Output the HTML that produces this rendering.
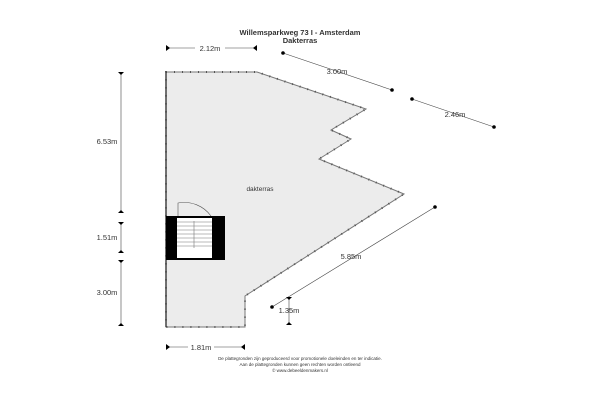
<!DOCTYPE html>
<html><head><style>body{margin:0;background:#fff}svg{display:block}text{font-family:"Liberation Sans",sans-serif;fill:#333}</style></head><body>
<svg width="600" height="400" viewBox="0 0 600 400">
<text x="300" y="35" font-size="7.5" font-weight="bold" text-anchor="middle">Willemsparkweg 73 I - Amsterdam</text>
<text x="300" y="43" font-size="7.5" font-weight="bold" text-anchor="middle">Dakterras</text>
<polygon points="166,72 257,72 366,109 331,130 351,139 319,159 404,194 245,296 245,327 166,327" fill="#ececec" stroke="#777" stroke-width="1"/>
<polygon points="166,72 257,72 366,109 331,130 351,139 319,159 404,194 245,296 245,327 166,327" fill="none" stroke="#555" stroke-width="2" stroke-dasharray="1,7"/>
<line x1="166" y1="72" x2="166" y2="327" stroke="#444" stroke-width="1.5"/>
<text x="260" y="191" font-size="6.5" text-anchor="middle">dakterras</text>
<path d="M178 216 V203 A33 33 0 0 1 211 216" fill="none" stroke="#555" stroke-width="0.6"/>
<rect x="166" y="216" width="59" height="44" fill="#000"/>
<rect x="177" y="218" width="35" height="40" fill="#fff"/>
<g stroke="#777" stroke-width="0.6">
<line x1="177" y1="222" x2="212" y2="222"/><line x1="177" y1="226" x2="212" y2="226"/><line x1="177" y1="230" x2="212" y2="230"/><line x1="177" y1="234" x2="212" y2="234"/><line x1="177" y1="238" x2="212" y2="238"/><line x1="177" y1="242" x2="212" y2="242"/><line x1="177" y1="246" x2="212" y2="246"/><line x1="194" y1="221" x2="194" y2="248"/></g>
<g stroke="#444" stroke-width="0.6">
<line x1="121" y1="72" x2="121" y2="213"/><line x1="121" y1="222" x2="121" y2="253"/><line x1="121" y1="260" x2="121" y2="326"/>
<line x1="166" y1="48" x2="257" y2="48"/><line x1="166" y1="347" x2="245" y2="347"/>
<line x1="283" y1="53" x2="392" y2="90"/><line x1="412" y1="99" x2="494" y2="127"/>
<line x1="435" y1="207" x2="272" y2="307"/><line x1="289" y1="297" x2="289" y2="325"/></g>
<g fill="#000">
<path d="M118 72h6l-3 3z"/><path d="M118 213h6l-3-3z"/><path d="M118 222h6l-3 3z"/><path d="M118 253h6l-3-3z"/><path d="M118 260h6l-3 3z"/><path d="M118 326h6l-3-3z"/>
<path d="M166 45v6l4-3z"/><path d="M257 45v6l-4-3z"/><path d="M166 344v6l4-3z"/><path d="M245 344v6l-4-3z"/>
<path d="M286 297h6l-3 3z"/><path d="M286 325h6l-3-3z"/>
<circle cx="283" cy="53" r="1.8"/><circle cx="392" cy="90" r="1.8"/><circle cx="412" cy="99" r="1.8"/><circle cx="494" cy="127" r="1.8"/><circle cx="435" cy="207" r="1.8"/><circle cx="272" cy="307" r="1.8"/></g>
<g font-size="7.5">
<rect x="195" y="43" width="30" height="9" fill="#fff"/><text x="210" y="51" text-anchor="middle">2.12m</text>
<rect x="188" y="342" width="26" height="9" fill="#fff"/><text x="201" y="350" text-anchor="middle">1.81m</text>
<text x="107" y="144" text-anchor="middle">6.53m</text>
<text x="107" y="240" text-anchor="middle">1.51m</text>
<text x="107" y="295" text-anchor="middle">3.00m</text>
<text x="337" y="74" text-anchor="middle">3.00m</text>
<text x="455" y="117" text-anchor="middle">2.46m</text>
<text x="351" y="259" text-anchor="middle">5.85m</text>
<text x="289" y="313" text-anchor="middle">1.35m</text></g>
<g font-size="4.5" text-anchor="middle" fill="#555">
<text x="300" y="360">De plattegronden zijn geproduceerd voor promotionele doeleinden en ter indicatie.</text>
<text x="300" y="366">Aan de plattegronden kunnen geen rechten worden ontleend</text>
<text x="300" y="372">© www.debeeldenmakers.nl</text></g>
</svg></body></html>
